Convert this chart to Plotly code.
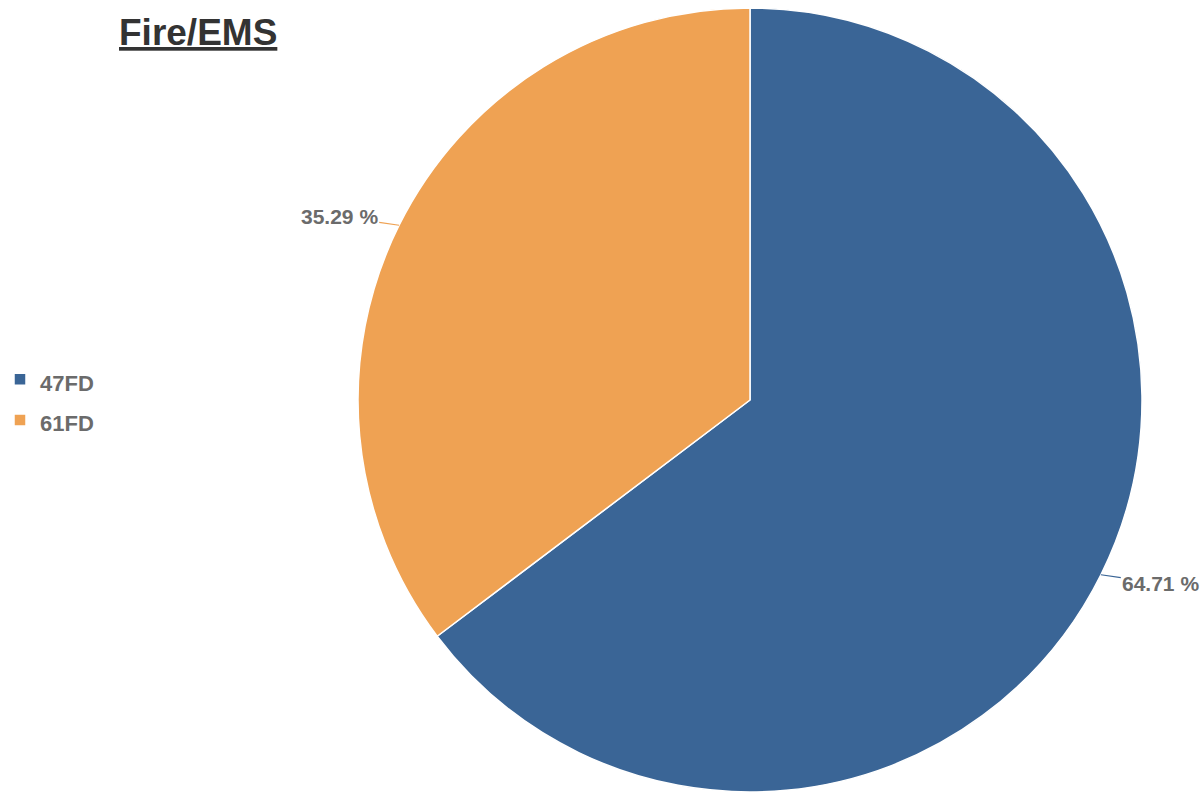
import math
import plotly.graph_objects as go

labels = ["47FD", "61FD"]
values = [11, 6]
colors = ["#3A6596", "#EFA253"]
title_text = "Fire/EMS"

W, H = 1200, 793
cx_px, cy_px, R = 750, 400, 392
FONT = "Liberation Sans, Arial, sans-serif"

fig = go.Figure(go.Pie(
    labels=[f"<b><span style='font-size:22px'>{l}</span></b>" for l in labels],
    values=values,
    sort=False,
    direction="clockwise",
    rotation=0,
    textinfo="none",
    marker=dict(colors=colors, line=dict(color="white", width=1.5)),
    domain=dict(x=[(cx_px - R) / W, (cx_px + R) / W],
                y=[1 - (cy_px + R) / H, 1 - (cy_px - R) / H]),
    hoverinfo="label+percent",
))

total = sum(values)
annotations = []
start = 0.0
for lab, v, col in zip(labels, values, colors):
    frac = v / total
    mid = (start + frac / 2) * 2 * math.pi  # clockwise from 12 o'clock
    start += frac
    dx, dy = math.sin(mid), -math.cos(mid)  # screen direction
    ex, ey = cx_px + dx * R, cy_px + dy * R
    side = 1 if dx >= 0 else -1
    annotations.append(dict(
        x=ex / W, y=1 - ey / H, xref="paper", yref="paper",
        text=f"<b>{frac * 100:.2f} %</b>",
        showarrow=True, arrowhead=0, arrowwidth=1.2,
        arrowcolor=col,
        ax=dx * 20 + side * 42, ay=dy * 20,
        font=dict(family=FONT, size=21, color="#6b6b6b"),
        standoff=0, startstandoff=0,
    ))

annotations.append(dict(
    x=117 / W, y=1 - 10 / H, xref="paper", yref="paper",
    xanchor="left", yanchor="top", showarrow=False,
    text=f"<b><u>{title_text}</u></b>",
    font=dict(family=FONT, size=37, color="#333333"),
))

fig.update_layout(
    width=W, height=H,
    margin=dict(l=0, r=0, t=0, b=0),
    paper_bgcolor="white", plot_bgcolor="white",
    showlegend=True,
    legend=dict(x=0.0, xanchor="left", y=1 - 400 / H, yanchor="middle",
                font=dict(family=FONT, size=29, color="#6b6b6b"),
                bgcolor="rgba(0,0,0,0)"),
    annotations=annotations,
)

fig.write_html(
    "out.html",
    config={"displayModeBar": False},
    post_script="document.body.style.margin='0';document.body.style.overflow='hidden';",
)
